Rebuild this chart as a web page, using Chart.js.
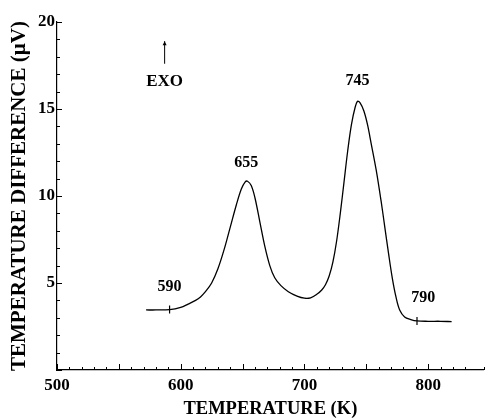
<!DOCTYPE html>
<html>
<head>
<meta charset="utf-8">
<script src="https://cdn.jsdelivr.net/npm/chart.js@4.4.1/dist/chart.umd.min.js"></script>
<style>
  html, body { margin: 0; padding: 0; background: #fff; }
  #wrap { width: 489px; height: 420px; }
</style>
</head>
<body>
<div id="wrap"><canvas id="dta"></canvas></div>
<script>
// DTA trace
const temperature = [572, 580, 591, 600, 606, 612, 616, 620, 625, 630, 635, 640, 645, 649, 652, 654, 657, 660, 664, 668, 672, 676, 681, 687, 694, 700, 705, 710, 714, 717, 720, 723, 726, 729, 732, 735, 738, 741, 743, 745, 748, 751, 754, 758, 762, 765, 768, 771, 774, 777, 781, 786, 791, 800, 810, 819];
const signal = [3.45, 3.45, 3.47, 3.6, 3.79, 4.0, 4.2, 4.5, 5.0, 5.8, 6.9, 8.2, 9.5, 10.4, 10.8, 10.85, 10.6, 9.9, 8.5, 7.1, 6.0, 5.3, 4.85, 4.5, 4.25, 4.13, 4.15, 4.35, 4.6, 4.9, 5.4, 6.2, 7.4, 9.0, 10.8, 12.6, 14.1, 15.1, 15.45, 15.35, 14.9, 14.1, 13.0, 11.5, 9.7, 8.2, 6.7, 5.3, 4.2, 3.45, 3.05, 2.9, 2.82, 2.8, 2.8, 2.78];

// marked temperatures and their labels
const markT = [591, 791];
const markY = [3.47, 2.82];
const noteText = ['590', '655', '745', '790'];
const noteT = [591, 653, 743, 796];
const noteY = [4.75, 11.9, 16.6, 4.15];

const xTickLabels = [500, 600, 700, 800];
const yTickLabels = [5, 10, 15, 20];

const serif = '"Liberation Serif", "DejaVu Serif", serif';

const points = temperature.map((t, i) => ({ x: t, y: signal[i] }));
const marks = markT.map((t, i) => ({ x: t, y: markY[i] }));

// inward tick marks + text notes
const decor = {
    id: 'decor',
    afterDraw(chart) {
        const ctx = chart.ctx;
        const xs = chart.scales.x;
        const ys = chart.scales.y;
        ctx.save();
        ctx.strokeStyle = '#000';
        ctx.lineWidth = 1;
        xs.ticks.forEach(t => {
            const px = Math.round(xs.getPixelForValue(t.value)) + 0.5;
            const len = t.value % 50 === 0 ? 6 : 3;
            ctx.beginPath();
            ctx.moveTo(px, ys.bottom);
            ctx.lineTo(px, ys.bottom - len);
            ctx.stroke();
        });
        ys.ticks.forEach(t => {
            const py = Math.round(ys.getPixelForValue(t.value)) + 0.5;
            const len = t.value % 5 === 0 ? 5 : 3;
            ctx.beginPath();
            ctx.moveTo(xs.left, py);
            ctx.lineTo(xs.left + len, py);
            ctx.stroke();
        });

        ctx.fillStyle = '#000';
        ctx.textAlign = 'center';
        ctx.textBaseline = 'middle';
        ctx.font = 'bold 16px ' + serif;
        noteText.forEach((s, i) => {
            ctx.fillText(s, xs.getPixelForValue(noteT[i]), ys.getPixelForValue(noteY[i]));
        });

        // EXO arrow
        ctx.font = 'bold 17px ' + serif;
        const ex = xs.getPixelForValue(587);
        ctx.fillText('EXO', ex, ys.getPixelForValue(16.6));
        const a0 = ys.getPixelForValue(17.6);
        const a1 = ys.getPixelForValue(18.9);
        ctx.beginPath();
        ctx.moveTo(ex, a0);
        ctx.lineTo(ex, a1);
        ctx.stroke();
        ctx.beginPath();
        ctx.moveTo(ex - 2, a1 + 4);
        ctx.lineTo(ex, a1);
        ctx.lineTo(ex + 2, a1 + 4);
        ctx.fill();
        ctx.restore();
    }
};

new Chart(document.getElementById('dta'), {
    type: 'scatter',
    data: {
        datasets: [{
            data: points,
            showLine: true,
            borderColor: '#000',
            borderWidth: 1.3,
            pointRadius: 0,
            tension: 0.35
        }, {
            data: marks,
            showLine: false,
            pointStyle: 'line',
            rotation: 90,
            pointRadius: 4,
            borderColor: '#000',
            borderWidth: 1.2
        }]
    },
    options: {
        responsive: true,
        maintainAspectRatio: false,
        animation: false,
        layout: { padding: { top: 22, right: 1, left: 0, bottom: 0 } },
        plugins: { legend: { display: false }, tooltip: { enabled: false } },
        scales: {
            x: {
                type: 'linear',
                min: 500,
                max: 845,
                grid: { display: false, drawTicks: false },
                border: { display: true, color: '#000', width: 1.2 },
                afterFit: s => { s.height = 50; },
                ticks: {
                    stepSize: 10,
                    autoSkip: false,
                    maxRotation: 0,
                    padding: 5,
                    color: '#000',
                    font: { family: serif, size: 17, weight: 'bold' },
                    callback: v => xTickLabels.includes(v) ? String(v) : ''
                },
                title: {
                    display: true,
                    text: 'TEMPERATURE (K)',
                    color: '#000',
                    font: { family: serif, size: 18.5, weight: 'bold' },
                    padding: { top: 0, bottom: 0 }
                }
            },
            y: {
                min: 0,
                max: 20,
                grid: { display: false, drawTicks: false },
                border: { display: true, color: '#000', width: 1.2 },
                afterFit: s => { s.width = 57; },
                ticks: {
                    stepSize: 1,
                    autoSkip: false,
                    padding: 2,
                    color: '#000',
                    font: { family: serif, size: 17, weight: 'bold' },
                    callback: v => yTickLabels.includes(v) ? String(v) : ''
                },
                title: {
                    display: true,
                    text: 'TEMPERATURE DIFFERENCE (\u00b5V)',
                    color: '#000',
                    font: { family: serif, size: 21, weight: 'bold' },
                    padding: { top: 7, bottom: 0 }
                }
            }
        }
    },
    plugins: [decor]
});
</script>
</body>
</html>
